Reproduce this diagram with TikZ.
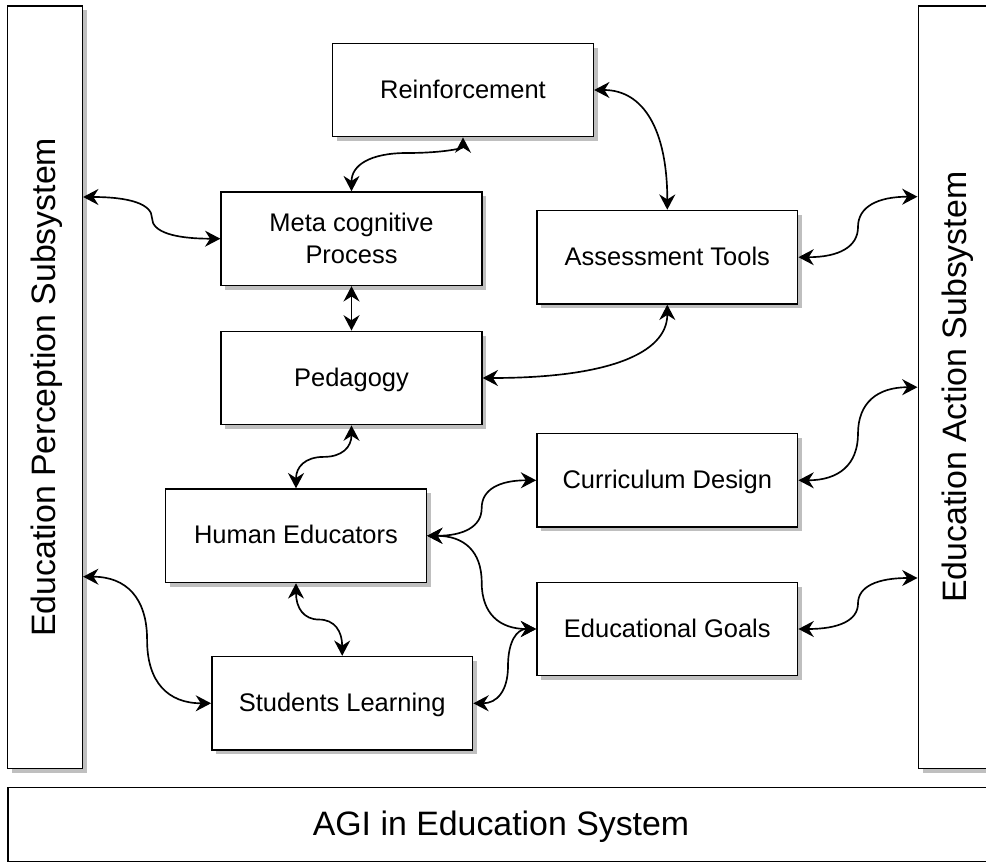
\documentclass[tikz,border=0pt]{standalone}
\usepackage{fontspec}
\setmainfont{Liberation Sans}
\usetikzlibrary{arrows.meta,shadows}
\newcommand\dgfont{\fontsize{19.1pt}{23.7pt}\selectfont}
\newcommand\dgbig{\fontsize{25.4pt}{30pt}\selectfont}
\begin{document}
\begin{tikzpicture}[x=0.75pt,y=-0.75pt,
  shad/.style={drop shadow={shadow xshift=3.2pt,shadow yshift=-3.2pt,fill=black!25,opacity=1}},
  basebox/.style={shad,draw=black,line width=1.2pt,fill=white,inner sep=0pt,shape=rectangle},
  box/.style={basebox,minimum width=195.5pt,minimum height=70pt,font=\dgfont},
  oneline/.style={text height=15.3pt,text depth=3pt},
  side/.style={basebox,minimum width=56.25pt,minimum height=571.7pt},
  biglab/.style={rotate=90,inner sep=0pt,font=\dgbig,text height=20.4pt,text depth=4pt},
  conn/.style={line width=1.25pt,{Stealth[length=11.5pt,width=12pt,inset=3.8pt]}-{Stealth[length=11.5pt,width=12pt,inset=3.8pt]}}
]
\useasboundingbox (0,0) rectangle (986,862);
\clip (0,0) rectangle (986,862);
\fill[white] (0,0) rectangle (986,862);

% side and bottom boxes
\node[side,label={[biglab]center:Education Perception Subsystem}] (lb) at (44.8,387.2) {};
\node[side,label={[biglab]center:Education Action Subsystem}] (rb) at (955.8,387.2) {};
\node[basebox,minimum width=739.9pt,minimum height=55.5pt,font=\dgbig,text height=20.4pt,text depth=4pt] (bb) at (501,824.3) {AGI in Education System};

% inner boxes
\node[box,oneline] (rein) at (463,90) {Reinforcement};
\node[box,align=center] (meta) at (351.5,238.7) {Meta cognitive\\Process};
\node[box,oneline] (ass) at (667.3,257.2) {Assessment Tools};
\node[box,oneline] (ped) at (351.5,378) {Pedagogy};
\node[box,oneline] (cur) at (667.3,480.3) {Curriculum Design};
\node[box,oneline] (hum) at (296,535.8) {Human Educators};
\node[box,oneline] (goal) at (667.3,629) {Educational Goals};
\node[box,oneline] (stu) at (342.2,703.3) {Students Learning};

% connectors
\draw[conn] (lb.east |- 0,197) .. controls +(46.3,0) and +(0,-14) .. (152,218) .. controls +(0,14) and +(-46,0) .. (meta.west);
\draw[conn] (rein.south) .. controls +(0,10.7) and +(37,0) .. (407,153) .. controls +(-37,0) and +(0,-26) .. (meta.north);
\draw[conn] (rein.east) .. controls +(49.3,0) and +(0,-80) .. (ass.north);
\draw[conn] (ass.east) .. controls +(40.2,0) and +(0,20.1) .. (858,227) .. controls +(0,-20.1) and +(-40.2,0) .. (rb.west |- 0,196.7);
\draw[conn] (meta.south) -- (ped.north);
\draw[conn] (ass.south) .. controls +(0,49.4) and +(123.5,0) .. (ped.east);
\draw[conn] (ped.south) .. controls +(0,21.5) and +(18.5,0) .. (323.75,456.9) .. controls +(-18.5,0) and +(0,-21.5) .. (hum.north);
\draw[conn] (hum.east) .. controls +(36.9,0) and +(0,18.5) .. (481.7,508) .. controls +(0,-18.5) and +(-36.9,0) .. (cur.west);
\draw[conn] (hum.east) .. controls +(36.9,0) and +(0,-31.1) .. (481.7,582.4) .. controls +(0,31.1) and +(-36.9,0) .. (goal.west);
\draw[conn] (hum.south) .. controls +(0,24.7) and +(-15.4,0) .. (319.1,619.55) .. controls +(15.4,0) and +(0,-24.7) .. (stu.north);
\draw[conn] (lb.east |- 0,576.7) .. controls +(43.1,0) and +(0,-42.2) .. (147.1,640) .. controls +(0,42.2) and +(-43.1,0) .. (stu.west);
\draw[conn] (stu.east) .. controls +(23.6,0) and +(0,24.8) .. (508,666.15) .. controls +(0,-24.8) and +(-19.3,0) .. (goal.west);
\draw[conn] (cur.east) .. controls +(40.2,0) and +(0,31) .. (858,433.75) .. controls +(0,-31) and +(-40.2,0) .. (rb.west);
\draw[conn] (goal.east) .. controls +(40.2,0) and +(0,17) .. (858,603.5) .. controls +(0,-17) and +(-40.2,0) .. (rb.west |- 0,578);
\end{tikzpicture}
\end{document}
